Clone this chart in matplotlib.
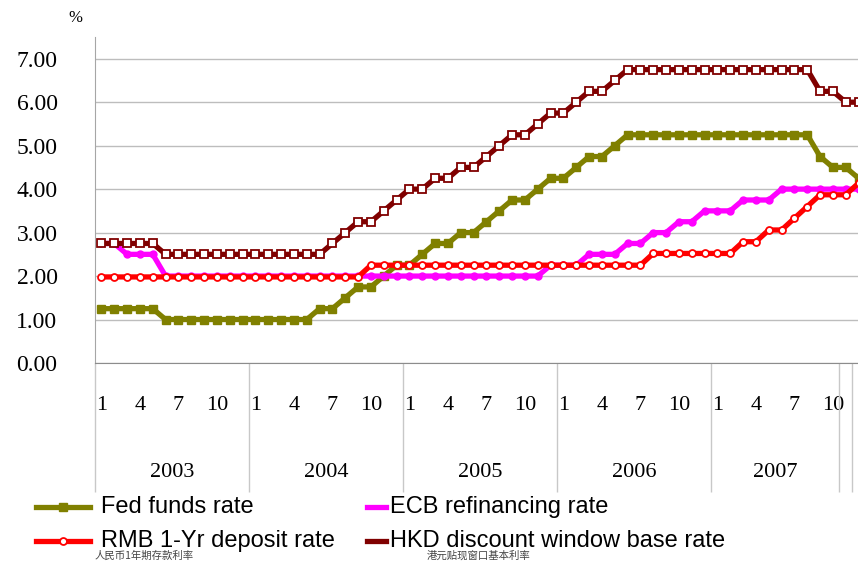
import numpy as np
import matplotlib
matplotlib.use("Agg")
import matplotlib.pyplot as plt
from matplotlib.lines import Line2D
import matplotlib.transforms as mtransforms

# monthly policy rates, Jan 2003 - Dec 2007 (%)
fed_funds = [
    1.25, 1.25, 1.25, 1.25, 1.25, 1.00, 1.00, 1.00, 1.00, 1.00, 1.00, 1.00,
    1.00, 1.00, 1.00, 1.00, 1.00, 1.25, 1.25, 1.50, 1.75, 1.75, 2.00, 2.25,
    2.25, 2.50, 2.75, 2.75, 3.00, 3.00, 3.25, 3.50, 3.75, 3.75, 4.00, 4.25,
    4.25, 4.50, 4.75, 4.75, 5.00, 5.25, 5.25, 5.25, 5.25, 5.25, 5.25, 5.25,
    5.25, 5.25, 5.25, 5.25, 5.25, 5.25, 5.25, 5.25, 4.75, 4.50, 4.50, 4.25,
]
ecb_rate = [
    2.75, 2.75, 2.50, 2.50, 2.50, 2.00, 2.00, 2.00, 2.00, 2.00, 2.00, 2.00,
    2.00, 2.00, 2.00, 2.00, 2.00, 2.00, 2.00, 2.00, 2.00, 2.00, 2.00, 2.00,
    2.00, 2.00, 2.00, 2.00, 2.00, 2.00, 2.00, 2.00, 2.00, 2.00, 2.00, 2.25,
    2.25, 2.25, 2.50, 2.50, 2.50, 2.75, 2.75, 3.00, 3.00, 3.25, 3.25, 3.50,
    3.50, 3.50, 3.75, 3.75, 3.75, 4.00, 4.00, 4.00, 4.00, 4.00, 4.00, 4.00,
]
rmb_deposit = [
    1.98, 1.98, 1.98, 1.98, 1.98, 1.98, 1.98, 1.98, 1.98, 1.98, 1.98, 1.98,
    1.98, 1.98, 1.98, 1.98, 1.98, 1.98, 1.98, 1.98, 1.98, 2.25, 2.25, 2.25,
    2.25, 2.25, 2.25, 2.25, 2.25, 2.25, 2.25, 2.25, 2.25, 2.25, 2.25, 2.25,
    2.25, 2.25, 2.25, 2.25, 2.25, 2.25, 2.25, 2.52, 2.52, 2.52, 2.52, 2.52,
    2.52, 2.52, 2.79, 2.79, 3.06, 3.06, 3.33, 3.60, 3.87, 3.87, 3.87, 4.14,
]
hkd_base = [
    2.75, 2.75, 2.75, 2.75, 2.75, 2.50, 2.50, 2.50, 2.50, 2.50, 2.50, 2.50,
    2.50, 2.50, 2.50, 2.50, 2.50, 2.50, 2.75, 3.00, 3.25, 3.25, 3.50, 3.75,
    4.00, 4.00, 4.25, 4.25, 4.50, 4.50, 4.75, 5.00, 5.25, 5.25, 5.50, 5.75,
    5.75, 6.00, 6.25, 6.25, 6.50, 6.75, 6.75, 6.75, 6.75, 6.75, 6.75, 6.75,
    6.75, 6.75, 6.75, 6.75, 6.75, 6.75, 6.75, 6.75, 6.25, 6.25, 6.00, 6.00,
]

month_labels = ["1", "", "", "4", "", "", "7", "", "", "10", "", ""]
year_labels = ["2003", "2004", "2005", "2006", "2007", "", ""]
year_sizes = [12, 12, 12, 12, 10, 1, 1]
y_ticks = [0, 1, 2, 3, 4, 5, 6, 7]

series_names = ["Fed funds rate", "ECB refinancing rate",
                "RMB 1-Yr deposit rate", "HKD discount window base rate"]
cn_names = ["人民币1年期存款利率", "港元贴现窗口基本利率"]

serif = "Liberation Serif"
sans = "Liberation Sans"

W, H = 858, 563
fig = plt.figure(figsize=(W / 100, H / 100), dpi=100)
fig.patch.set_facecolor("white")

# plot area in pixels: left 95, bottom 363, top 37, 60 months x 12.83 px
ax = fig.add_axes([95 / W, 1 - 363 / H, 770 / W, 326 / H])

n = len(fed_funds)
x = np.arange(n)

styles = [
    dict(color="#808000", marker="s", ms=5.5, mfc="#808000", mec="#808000"),
    dict(color="#ff00ff", marker="o", ms=5, mfc="#ff00ff", mec="#ff00ff"),
    dict(color="#ff0000", marker="o", ms=5, mfc="white", mec="#ff0000", mew=1.3),
    dict(color="#800000", marker="s", ms=5.5, mfc="white", mec="#800000", mew=1.3),
]
for vals, st in zip([fed_funds, ecb_rate, rmb_deposit, hkd_base], styles):
    ax.plot(x, vals, lw=3.8, solid_joinstyle="round", clip_on=False, **st)

ax.set_xlim(-0.5, n - 0.5)
ax.set_ylim(0, 7.5)
ax.set_yticks(y_ticks)
ax.set_yticklabels([f"{v:.2f}" for v in y_ticks], fontfamily=serif, fontsize=17)
ax.tick_params(axis="y", length=0, pad=27)
ax.grid(axis="y", color="#bdbdbd", lw=1)
ax.set_axisbelow(True)

for side in ["top", "right"]:
    ax.spines[side].set_visible(False)
ax.spines["left"].set_color("#a6a6a6")
ax.spines["bottom"].set_color("#8c8c8c")

# month labels
all_months = month_labels * (n // 12 + 1)
tick_pos = [i for i in range(n) if all_months[i]]
ax.set_xticks(tick_pos)
ax.set_xticklabels([all_months[i] for i in tick_pos], fontfamily=serif, fontsize=16)
ax.tick_params(axis="x", length=0, pad=24)

# year groups and separators below the axis
trans = mtransforms.blended_transform_factory(ax.transData, ax.transAxes)
edges = np.concatenate([[0], np.cumsum(year_sizes)]) - 0.5
ax.vlines(edges, -0.395, 0, transform=trans, colors="#c8c8c8", lw=1, clip_on=False)
for lab, a, b in zip(year_labels, edges[:-1], edges[1:]):
    ax.text((a + b) / 2, -0.335, lab, transform=trans, ha="center", va="center",
            fontfamily=serif, fontsize=16)

fig.text(75 / W, 1 - 18 / H, "%", ha="center", va="center", fontfamily=serif, fontsize=12)

# legend (drawn by hand to match the layout)
def fy(py):
    return 1 - py / H

leg_rows = [507, 541]
handle_spans = [(36, 90), (367, 386), (36, 90), (367, 386)]
text_x = [101, 390, 101, 390]
for k, (name, st) in enumerate(zip(series_names, styles)):
    row = leg_rows[k // 2]
    x0, x1 = handle_spans[k]
    fig.add_artist(Line2D([x0 / W, x1 / W], [fy(row), fy(row)], transform=fig.transFigure,
                          color=st["color"], lw=3.8))
    if k % 2 == 0:
        fig.add_artist(Line2D([(x0 + x1) / 2 / W], [fy(row)], transform=fig.transFigure,
                              marker=st["marker"], ms=st["ms"], mfc=st["mfc"],
                              mec=st["mec"], mew=st.get("mew", 1), lw=0))
    fig.text(text_x[k] / W, fy(row), name, ha="left", va="center",
             fontfamily=sans, fontsize=17)

# original Chinese legend text, squeezed into the strip under the legend
cjk = ["Noto Sans CJK SC", "DejaVu Sans"]
fig.text(95 / W, fy(556), cn_names[0], ha="left", va="center",
         fontfamily=cjk, fontsize=7.5, color="#444444")
fig.text(427 / W, fy(556), cn_names[1], ha="left", va="center",
         fontfamily=cjk, fontsize=7.5, color="#444444")

fig.savefig("out.png", dpi=100)
